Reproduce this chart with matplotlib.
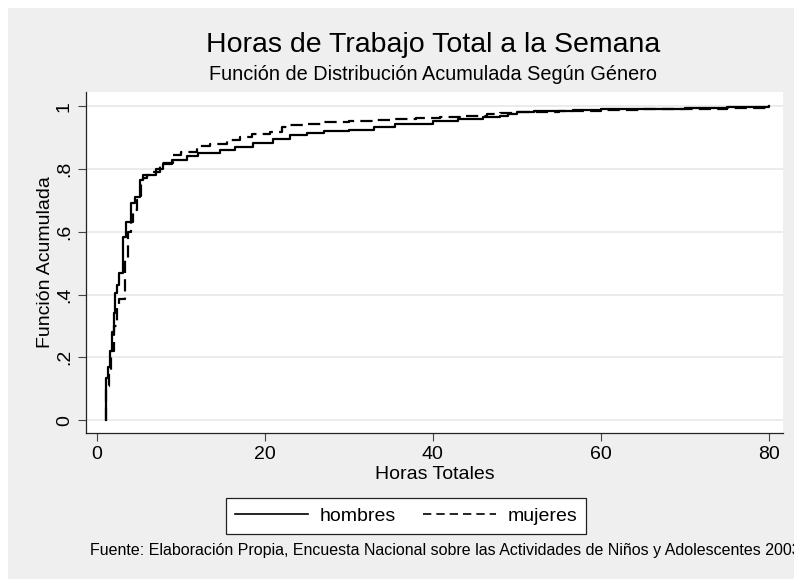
import matplotlib
matplotlib.use('Agg')
import matplotlib.pyplot as plt
from matplotlib.patches import Rectangle
from matplotlib.lines import Line2D

plt.rcParams['font.family'] = ['Liberation Sans', 'DejaVu Sans']

hombres_x = [1.07, 1.3, 1.5, 1.75, 2.0, 2.14, 2.4, 2.66, 3.05, 3.5, 4.1, 4.5, 5.1, 5.5, 6.0,
             7.0, 7.86, 9.0, 10.7, 12, 14.6, 16.5, 18.6, 21, 23, 25, 27, 30, 33, 35.5, 40,
             43, 46, 48, 49, 50, 52, 56.7, 60, 65, 70, 75, 80]
hombres_y = [0.134, 0.17, 0.22, 0.28, 0.34, 0.404, 0.43, 0.468, 0.583, 0.632, 0.69, 0.71,
             0.764, 0.772, 0.78, 0.80, 0.815, 0.83, 0.841, 0.85, 0.86, 0.87, 0.882, 0.895,
             0.908, 0.913, 0.92, 0.925, 0.932, 0.943, 0.952, 0.958, 0.965, 0.97, 0.975,
             0.982, 0.985, 0.988, 0.99, 0.992, 0.995, 0.997, 1.0]
mujeres_x = [1.07, 1.4, 1.7, 2.0, 2.4, 2.66, 3.4, 3.73, 4.0, 4.3, 4.8, 5.2, 5.5, 6.5, 7.5,
             9.05, 10, 11.9, 13.5, 15.5, 17, 18.5, 20.6, 22, 23, 25, 26.9, 30, 33, 34.9, 38,
             40.8, 44, 46.4, 48, 50, 55, 60, 65, 70, 75, 80]
mujeres_y = [0.11, 0.16, 0.22, 0.30, 0.36, 0.385, 0.51, 0.60, 0.63, 0.67, 0.70, 0.76, 0.78,
             0.79, 0.818, 0.844, 0.855, 0.873, 0.88, 0.892, 0.903, 0.91, 0.917, 0.932, 0.939,
             0.944, 0.949, 0.952, 0.956, 0.959, 0.962, 0.965, 0.97, 0.975, 0.977, 0.98,
             0.983, 0.987, 0.99, 0.992, 0.995, 1.0]

xticks = [0, 20, 40, 60, 80]
yticks = [0, 0.2, 0.4, 0.6, 0.8, 1.0]
ytick_labels = ['0', '.2', '.4', '.6', '.8', '1']

W, H = 794, 579
fig = plt.figure(figsize=(W / 100, H / 100), dpi=100, facecolor='#efefef')
# thin white border on top and left, as in the reference
fig.patches.append(Rectangle((0, 0), 8 / W, 1, transform=fig.transFigure,
                             facecolor='white', edgecolor='none', zorder=-10))
fig.patches.append(Rectangle((0, 1 - 8 / H), 1, 8 / H, transform=fig.transFigure,
                             facecolor='white', edgecolor='none', zorder=-10))

ax = fig.add_axes([86 / W, 1 - 433 / H, (783 - 86) / W, (433 - 92) / H])
ax.set_facecolor('white')

# start each curve at zero like the vertical jump in the reference
ax.step([hombres_x[0]] + hombres_x, [0] + hombres_y, where='post', color='black', lw=1.6)
ax.step([mujeres_x[0]] + mujeres_x, [0] + mujeres_y, where='post', color='black', lw=1.6,
        dashes=(5.5, 2.8))

ax.set_xlim(-1.3, 81.7)
ax.set_ylim(-0.041, 1.045)
ax.set_xticks(xticks)
ax.set_yticks(yticks)
ax.set_yticklabels(ytick_labels, rotation=90, va='center')
ax.tick_params(labelsize=14, length=6, width=0.8, color='#444444')
ax.yaxis.grid(True, color='#e8e8e8', lw=1.2)
ax.set_axisbelow(True)
for s in ['top', 'right']:
    ax.spines[s].set_visible(False)
for s in ['left', 'bottom']:
    ax.spines[s].set_color('#222222')
    ax.spines[s].set_linewidth(0.9)

ax.set_xlabel('Horas Totales', fontsize=14, labelpad=2)
ax.set_ylabel('Función Acumulada', fontsize=14, labelpad=1.5)

fig.text(433 / W, 1 - 45 / H, 'Horas de Trabajo Total a la Semana', fontsize=20.5,
         ha='center', va='center')
fig.text(433 / W, 1 - 75 / H, 'Función de Distribución Acumulada Según Género', fontsize=14.3,
         ha='center', va='center')

handles = [Line2D([], [], color='black', lw=1.2),
           Line2D([], [], color='black', lw=1.2, dashes=(5, 3))]
leg = fig.legend(handles, ['hombres', 'mujeres'], loc='center',
                 bbox_to_anchor=(406 / W, 1 - 516 / H), ncol=2, fontsize=14,
                 fancybox=False, framealpha=1, edgecolor='#222222',
                 handlelength=3.75, handletextpad=0.6, columnspacing=1.4,
                 borderpad=0.45, borderaxespad=0)
leg.get_frame().set_linewidth(0.9)

fig.text(90 / W, 1 - 550 / H,
         'Fuente: Elaboración Propia, Encuesta Nacional sobre las Actividades de Niños y Adolescentes 2003',
         fontsize=11.5, ha='left', va='center')

fig.savefig('out.png', dpi=100, facecolor=fig.get_facecolor())
